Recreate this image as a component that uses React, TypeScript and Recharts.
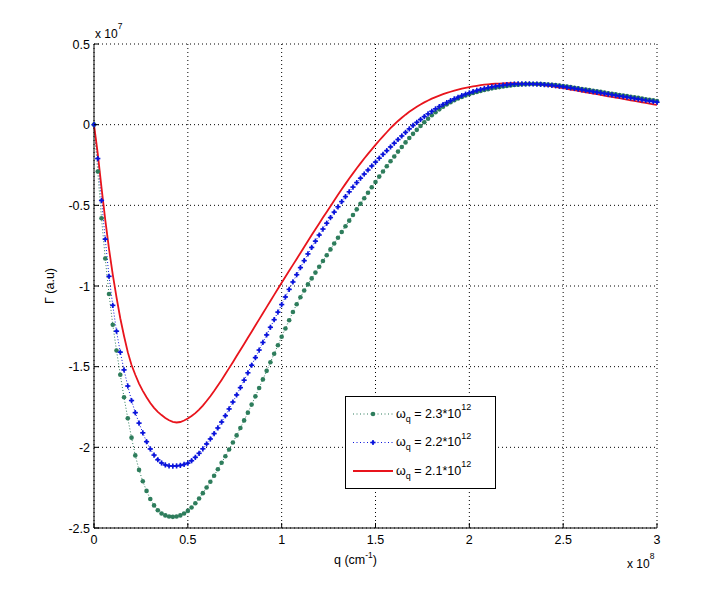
import { CartesianGrid, Line, LineChart, XAxis, YAxis } from "recharts";

// q in units of 1e8 cm^-1, Gamma in units of 1e7 (a.u.)
const qValues = [
  0, 0.02, 0.04, 0.06, 0.08, 0.1, 0.12, 0.14, 0.16, 0.18,
  0.2, 0.22, 0.24, 0.26, 0.28, 0.3, 0.32, 0.34, 0.36, 0.38,
  0.4, 0.42, 0.44, 0.46, 0.48, 0.5, 0.52, 0.54, 0.56, 0.58,
  0.6, 0.62, 0.64, 0.66, 0.68, 0.7, 0.72, 0.74, 0.76, 0.78,
  0.8, 0.82, 0.84, 0.86, 0.88, 0.9, 0.92, 0.94, 0.96, 0.98,
  1, 1.02, 1.04, 1.06, 1.08, 1.1, 1.12, 1.14, 1.16, 1.18,
  1.2, 1.22, 1.24, 1.26, 1.28, 1.3, 1.32, 1.34, 1.36, 1.38,
  1.4, 1.42, 1.44, 1.46, 1.48, 1.5, 1.52, 1.54, 1.56, 1.58,
  1.6, 1.62, 1.64, 1.66, 1.68, 1.7, 1.72, 1.74, 1.76, 1.78,
  1.8, 1.82, 1.84, 1.86, 1.88, 1.9, 1.92, 1.94, 1.96, 1.98,
  2, 2.02, 2.04, 2.06, 2.08, 2.1, 2.12, 2.14, 2.16, 2.18,
  2.2, 2.22, 2.24, 2.26, 2.28, 2.3, 2.32, 2.34, 2.36, 2.38,
  2.4, 2.42, 2.44, 2.46, 2.48, 2.5, 2.52, 2.54, 2.56, 2.58,
  2.6, 2.62, 2.64, 2.66, 2.68, 2.7, 2.72, 2.74, 2.76, 2.78,
  2.8, 2.82, 2.84, 2.86, 2.88, 2.9, 2.92, 2.94, 2.96, 2.98,
  3,
];

// omega_q = 2.3e12
const gammaW23 = [
  0, -0.29, -0.58, -0.83, -1.05, -1.24, -1.4, -1.55, -1.69, -1.82,
  -1.94, -2.05, -2.14, -2.21, -2.27, -2.32, -2.36, -2.39, -2.41, -2.422,
  -2.429, -2.431, -2.429, -2.422, -2.41, -2.394, -2.373, -2.347, -2.317, -2.284,
  -2.249, -2.213, -2.176, -2.136, -2.096, -2.055, -2.013, -1.97, -1.926, -1.88,
  -1.833, -1.785, -1.735, -1.684, -1.632, -1.579, -1.526, -1.473, -1.42, -1.367,
  -1.315, -1.263, -1.212, -1.161, -1.113, -1.07, -1.028, -0.99, -0.953, -0.917,
  -0.881, -0.845, -0.809, -0.773, -0.737, -0.701, -0.665, -0.63, -0.595, -0.56,
  -0.525, -0.49, -0.456, -0.422, -0.388, -0.355, -0.322, -0.29, -0.258, -0.227,
  -0.197, -0.167, -0.138, -0.11, -0.083, -0.057, -0.032, -0.008, 0.015, 0.037,
  0.058, 0.077, 0.095, 0.111, 0.126, 0.139, 0.151, 0.162, 0.172, 0.181,
  0.189, 0.196, 0.203, 0.209, 0.215, 0.22, 0.225, 0.229, 0.233, 0.237,
  0.24, 0.243, 0.246, 0.248, 0.25, 0.251, 0.252, 0.252, 0.252, 0.251,
  0.25, 0.249, 0.247, 0.245, 0.243, 0.24, 0.236, 0.233, 0.229, 0.225,
  0.221, 0.218, 0.214, 0.21, 0.207, 0.203, 0.199, 0.195, 0.192, 0.188,
  0.184, 0.18, 0.177, 0.173, 0.169, 0.166, 0.162, 0.158, 0.154, 0.151,
  0.147,
];

// omega_q = 2.2e12
const gammaW22 = [
  0, -0.21, -0.47, -0.71, -0.94, -1.12, -1.28, -1.41, -1.52, -1.62,
  -1.71, -1.785, -1.85, -1.91, -1.965, -2.01, -2.048, -2.077, -2.097, -2.109,
  -2.115, -2.116, -2.115, -2.112, -2.106, -2.098, -2.083, -2.062, -2.037, -2.009,
  -1.979, -1.948, -1.915, -1.88, -1.843, -1.804, -1.762, -1.719, -1.675, -1.63,
  -1.584, -1.538, -1.491, -1.444, -1.397, -1.35, -1.303, -1.256, -1.209, -1.162,
  -1.115, -1.068, -1.021, -0.975, -0.93, -0.886, -0.843, -0.801, -0.761, -0.722,
  -0.684, -0.647, -0.611, -0.576, -0.542, -0.509, -0.477, -0.446, -0.416, -0.387,
  -0.359, -0.332, -0.306, -0.281, -0.256, -0.232, -0.208, -0.184, -0.161, -0.138,
  -0.115, -0.092, -0.07, -0.048, -0.026, -0.005, 0.014, 0.032, 0.05, 0.067,
  0.083, 0.098, 0.112, 0.125, 0.137, 0.149, 0.16, 0.17, 0.18, 0.189,
  0.197, 0.205, 0.212, 0.218, 0.224, 0.229, 0.234, 0.238, 0.242, 0.245,
  0.248, 0.25, 0.252, 0.253, 0.253, 0.253, 0.253, 0.252, 0.251, 0.25,
  0.248, 0.246, 0.244, 0.241, 0.238, 0.235, 0.231, 0.228, 0.224, 0.22,
  0.216, 0.212, 0.208, 0.204, 0.2, 0.197, 0.193, 0.189, 0.185, 0.181,
  0.177, 0.174, 0.17, 0.166, 0.162, 0.158, 0.154, 0.15, 0.147, 0.143,
  0.139,
];

// omega_q = 2.1e12
const gammaW21 = [
  0, -0.18, -0.39, -0.59, -0.77, -0.93, -1.07, -1.2, -1.31, -1.41,
  -1.49, -1.55, -1.605, -1.65, -1.69, -1.725, -1.755, -1.78, -1.8, -1.818,
  -1.832, -1.842, -1.846, -1.843, -1.834, -1.821, -1.806, -1.788, -1.766, -1.741,
  -1.713, -1.683, -1.651, -1.617, -1.582, -1.546, -1.509, -1.472, -1.434, -1.397,
  -1.359, -1.321, -1.283, -1.245, -1.207, -1.169, -1.131, -1.093, -1.055, -1.017,
  -0.98, -0.943, -0.906, -0.869, -0.832, -0.795, -0.758, -0.721, -0.684, -0.648,
  -0.612, -0.576, -0.541, -0.506, -0.47, -0.435, -0.401, -0.367, -0.334, -0.302,
  -0.27, -0.24, -0.21, -0.181, -0.153, -0.125, -0.098, -0.072, -0.047, -0.022,
  0.001, 0.023, 0.043, 0.062, 0.08, 0.096, 0.111, 0.125, 0.138, 0.15,
  0.161, 0.171, 0.18, 0.189, 0.197, 0.204, 0.211, 0.217, 0.223, 0.228,
  0.233, 0.237, 0.241, 0.245, 0.248, 0.25, 0.252, 0.254, 0.255, 0.256,
  0.257, 0.257, 0.257, 0.256, 0.255, 0.254, 0.252, 0.25, 0.248, 0.246,
  0.243, 0.24, 0.237, 0.234, 0.23, 0.226, 0.222, 0.218, 0.214, 0.21,
  0.205, 0.201, 0.197, 0.193, 0.189, 0.185, 0.18, 0.176, 0.172, 0.168,
  0.164, 0.16, 0.155, 0.151, 0.147, 0.143, 0.139, 0.135, 0.13, 0.126,
  0.122,
];

const xTicks = [0, 0.5, 1, 1.5, 2, 2.5, 3];
const yTicks = [-2.5, -2, -1.5, -1, -0.5, 0, 0.5];
const legendLabels = ["2.3", "2.2", "2.1"];

const data = qValues.map((q, i) => ({
  q,
  w23: gammaW23[i],
  w22: gammaW22[i],
  w21: gammaW21[i],
}));

const FONT = '"Liberation Sans", Arial, Helvetica, sans-serif';
const GREEN = "#2e7d5c";
const BLUE = "#0a14dc";
const RED = "#e8141c";
const TICK_LEN = 5;

function BottomTick({ x, y, payload }: any) {
  return (
    <g>
      <line x1={x} x2={x} y1={y} y2={y - TICK_LEN} stroke="#000" />
      <text x={x} y={y + 15.5} textAnchor="middle" fontSize={12.5} fontFamily={FONT} fill="#000">
        {String(payload.value)}
      </text>
    </g>
  );
}

function LeftTick({ x, y, payload }: any) {
  return (
    <g>
      <line x1={x} x2={x + TICK_LEN} y1={y} y2={y} stroke="#000" />
      <text x={x - 4} y={y + 4.5} textAnchor="end" fontSize={12.5} fontFamily={FONT} fill="#000">
        {String(payload.value)}
      </text>
    </g>
  );
}

function TopTick({ x, y }: any) {
  return <line x1={x} x2={x} y1={y} y2={y + TICK_LEN} stroke="#000" />;
}

function RightTick({ x, y }: any) {
  return <line x1={x} x2={x - TICK_LEN} y1={y} y2={y} stroke="#000" />;
}

function greenDot(props: any) {
  const { cx, cy, index } = props;
  return <circle key={`g-${index}`} cx={cx} cy={cy} r={2.3} fill={GREEN} />;
}

function BlueMark({ cx, cy }: { cx: number; cy: number }) {
  return (
    <g>
      <line x1={cx - 2.6} x2={cx + 2.6} y1={cy} y2={cy} stroke={BLUE} strokeWidth={1.6} />
      <line x1={cx} x2={cx} y1={cy - 2.6} y2={cy + 2.6} stroke={BLUE} strokeWidth={1.6} />
      <circle cx={cx} cy={cy} r={1.4} fill={BLUE} />
    </g>
  );
}

function blueDot(props: any) {
  const { cx, cy, index } = props;
  return (
    <g key={`b-${index}`}>
      <BlueMark cx={cx} cy={cy} />
    </g>
  );
}

function LegendEntry({ y, value, kind }: { y: number; value: string; kind: string }) {
  const color = kind === "green" ? GREEN : kind === "blue" ? BLUE : RED;
  return (
    <g>
      {kind === "red" ? (
        <line x1={353} x2={393} y1={y} y2={y} stroke={RED} strokeWidth={2} />
      ) : (
        <line x1={353} x2={393} y1={y} y2={y} stroke={color} strokeWidth={1} strokeDasharray="1 2.5" />
      )}
      {kind === "green" && <circle cx={373} cy={y} r={2.3} fill={GREEN} />}
      {kind === "blue" && <BlueMark cx={373} cy={y} />}
      <text x={396} y={y + 3.5} fontSize={12.5} fontFamily={FONT} fill="#000">
        <tspan>ω</tspan>
        <tspan fontSize={9} dy={4}>q</tspan>
        <tspan dy={-4}>{` = ${value}*10`}</tspan>
        <tspan fontSize={9} dy={-7.5}>12</tspan>
      </text>
    </g>
  );
}

function Overlay() {
  return (
    <svg
      width={725}
      height={593}
      style={{ position: "absolute", left: 0, top: 0, pointerEvents: "none" }}
    >
      {/* exponent labels */}
      <text x={95} y={37.5} fontSize={12} fontFamily={FONT} fill="#000">
        <tspan>x 10</tspan>
        <tspan fontSize={8.5} dy={-9}>7</tspan>
      </text>
      <text x={627} y={567.5} fontSize={12} fontFamily={FONT} fill="#000">
        <tspan>x 10</tspan>
        <tspan fontSize={8.5} dy={-9}>8</tspan>
      </text>

      {/* axis titles */}
      <text x={334} y={564} fontSize={12.5} fontFamily={FONT} fill="#000">
        <tspan>q (cm</tspan>
        <tspan fontSize={8.5} dy={-6}>-1</tspan>
        <tspan dy={6}>)</tspan>
      </text>
      <text
        x={54}
        y={286}
        fontSize={12.5}
        fontFamily={FONT}
        fill="#000"
        textAnchor="middle"
        transform="rotate(-90 54 286)"
      >
        Γ (a.u)
      </text>

      {/* legend */}
      <rect x={345.5} y={396.5} width={150} height={92} fill="#fff" stroke="#000" />
      <LegendEntry y={414} value={legendLabels[0]} kind="green" />
      <LegendEntry y={442.5} value={legendLabels[1]} kind="blue" />
      <LegendEntry y={471} value={legendLabels[2]} kind="red" />
    </svg>
  );
}

export default function App() {
  return (
    <div
      style={{
        position: "absolute",
        left: 0,
        top: 0,
        width: 725,
        height: 593,
        background: "#fff",
      }}
    >
      <LineChart
        width={725}
        height={593}
        data={data}
        margin={{ top: 44, right: 68, left: 34, bottom: 35 }}
      >
        <CartesianGrid stroke="#000" strokeDasharray="1 3" />
        <XAxis
          dataKey="q"
          type="number"
          domain={[0, 3]}
          ticks={xTicks}
          height={30}
          tickSize={0}
          tickMargin={0}
          tickLine={false}
          axisLine={{ stroke: "#000" }}
          tick={<BottomTick />}
        />
        <XAxis
          xAxisId="top"
          orientation="top"
          dataKey="q"
          type="number"
          domain={[0, 3]}
          ticks={xTicks}
          height={0}
          tickSize={0}
          tickMargin={0}
          tickLine={false}
          axisLine={{ stroke: "#000" }}
          tick={<TopTick />}
        />
        <YAxis
          type="number"
          domain={[-2.5, 0.5]}
          ticks={yTicks}
          width={60}
          tickSize={0}
          tickMargin={0}
          tickLine={false}
          axisLine={{ stroke: "#000" }}
          tick={<LeftTick />}
        />
        <YAxis
          yAxisId="right"
          orientation="right"
          type="number"
          domain={[-2.5, 0.5]}
          ticks={yTicks}
          width={0}
          tickSize={0}
          tickMargin={0}
          tickLine={false}
          axisLine={{ stroke: "#000" }}
          tick={<RightTick />}
        />
        <Line
          type="linear"
          dataKey="w23"
          stroke={GREEN}
          strokeWidth={1}
          strokeDasharray="1 2"
          dot={greenDot}
          activeDot={false}
          isAnimationActive={false}
        />
        <Line
          type="linear"
          dataKey="w22"
          stroke={BLUE}
          strokeWidth={1}
          strokeDasharray="1 2"
          dot={blueDot}
          activeDot={false}
          isAnimationActive={false}
        />
        <Line
          type="linear"
          dataKey="w21"
          stroke={RED}
          strokeWidth={1.8}
          dot={false}
          activeDot={false}
          isAnimationActive={false}
        />
      </LineChart>
      <Overlay />
    </div>
  );
}
